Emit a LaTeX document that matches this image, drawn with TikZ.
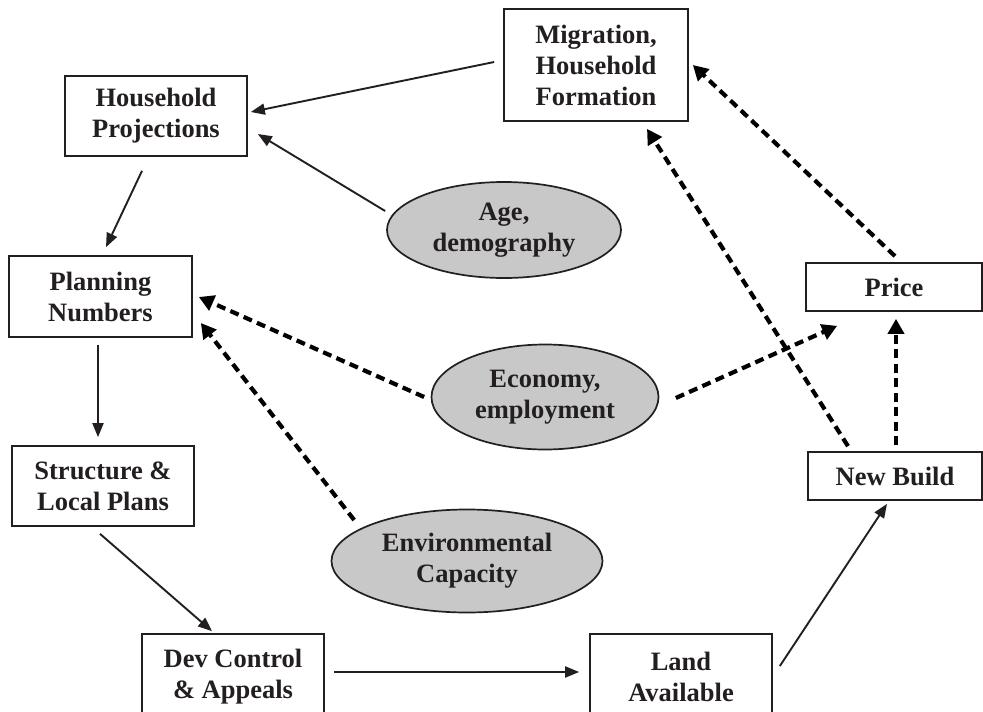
\documentclass[tikz,border=0pt]{standalone}
\usepackage{fontspec}
\setmainfont{Liberation Serif}
\usetikzlibrary{arrows.meta,calc,shapes.geometric}
\definecolor{txt}{RGB}{35,31,32}
\definecolor{ellfill}{RGB}{200,200,200}
\begin{document}
\begin{tikzpicture}[x=1pt,y=-1pt,
  every node/.style={font=\fontsize{26.5}{31}\selectfont\bfseries, text=txt, align=center, inner sep=0pt},
  boxnode/.style={draw=txt, line width=1.7pt, rectangle},
  ellnode/.style={draw=txt, line width=1.7pt, ellipse, fill=ellfill},
  arr/.style={draw=txt, line width=1.9pt, -{Triangle[length=14pt,width=11pt]}},
  darr/.style={draw=black, line width=4.2pt, dash pattern=on 9pt off 5.5pt, -{Triangle[length=15pt,width=16pt]}}
]
\useasboundingbox (0,0) rectangle (983,712);
\fill[white] (0,0) rectangle (983,712);

\node[boxnode, minimum width=184pt, minimum height=112pt] (mig) at (596,65) {Migration,\\Household\\Formation};
\node[boxnode, minimum width=182pt, minimum height=80pt] (hh) at (156,116) {Household\\Projections};
\node[boxnode, minimum width=183pt, minimum height=81pt] (plan) at (100.5,296.5) {Planning\\Numbers};
\node[boxnode, minimum width=182pt, minimum height=80pt] (struct) at (103,486) {Structure \&\\Local Plans};
\node[boxnode, minimum width=182pt, minimum height=86pt] (dev) at (233,677) {Dev Control\\\& Appeals};
\node[boxnode, minimum width=182pt, minimum height=86pt] (land) at (681,677) {Land\\Available};
\node[boxnode, minimum width=176pt, minimum height=48pt] (price) at (894,287) {Price};
\node[boxnode, minimum width=174pt, minimum height=48pt] (nb) at (895,476) {New Build};

\node[ellnode, minimum width=234pt, minimum height=96pt] (age) at (504,230) {Age,\\demography};
\node[ellnode, minimum width=227pt, minimum height=105pt] (eco) at (545,397) {Economy,\\employment};
\node[ellnode, minimum width=271pt, minimum height=103pt] (env) at (467,561) {Environmental\\Capacity};

% solid arrows
\draw[arr] ($(mig.west)+(-9,-3)$) -- ($(hh.east)+(3,-4)$);
\draw[arr] ($(age.west)+(-1,-19)$) -- ($(hh.east)+(10,18)$);
\draw[arr] ($(hh.south)+(-14,14)$) -- ($(plan.north)+(5.5,-8)$);
\draw[arr] ($(plan.south)+(-2.5,7)$) -- ($(struct.north)+(-5,-8)$);
\draw[arr] ($(struct.south)+(-3,7)$) -- ($(dev.north)+(-21,-2)$);
\draw[arr] ($(dev.east)+(9,-5)$) -- ($(land.west)+(-10,-5)$);
\draw[arr] ($(land.east)+(7,-11)$) -- ($(nb.south)+(-8,3)$);

% dashed arrows
\draw[darr] ($(eco.west)+(-6.5,0)$) -- ($(plan.east)+(6,0.5)$);
\draw[darr] ($(env.west)+(23.5,-41)$) -- ($(plan.east)+(8,26.5)$);
\draw[darr] ($(eco.east)+(16.5,1)$) -- ($(price.south west)+(32,14)$);
\draw[darr] ($(nb.north)+(-47,-5)$) -- ($(mig.south)+(51,7)$);
\draw[darr] ($(price.north)+(1,-6)$) -- ($(mig.east)+(4,0)$);
\draw[darr] ($(nb.north)+(1,-6)$) -- ($(price.south)+(2,7)$);
\end{tikzpicture}
\end{document}
